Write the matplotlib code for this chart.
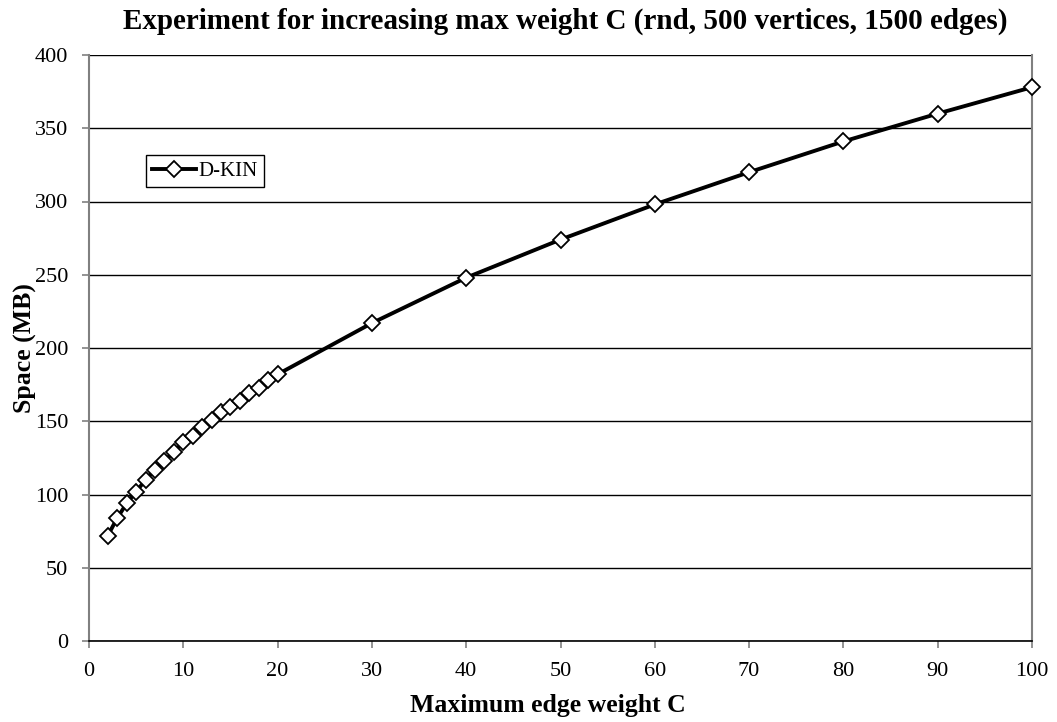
import matplotlib
matplotlib.use("Agg")
import matplotlib.pyplot as plt

plt.rcParams['font.family'] = ['Liberation Serif', 'DejaVu Serif']

max_weight = [2, 3, 4, 5, 6, 7, 8, 9, 10, 11, 12, 13, 14, 15, 16, 17, 18, 19, 20,
              30, 40, 50, 60, 70, 80, 90, 100]
space_mb = [72, 84, 94, 102, 110, 117, 123, 129, 136, 140, 146, 151, 156, 160,
            164, 169, 173, 178, 182, 217, 248, 274, 298, 320, 341, 360, 378]

x_ticks = list(range(0, 101, 10))
y_ticks = list(range(0, 401, 50))

fig = plt.figure(figsize=(10.57, 7.22), dpi=100)
ax = fig.add_axes([89 / 1057, 1 - 641 / 722, (1032 - 89) / 1057, (641 - 55) / 722])

ax.plot(max_weight, space_mb, color='black', linewidth=2.8, marker='D',
        markersize=8, markerfacecolor='white', markeredgecolor='black',
        markeredgewidth=1.3, label='D-KIN', zorder=3, clip_on=False)

ax.set_xlim(0, 100)
ax.set_ylim(0, 400)
ax.set_xticks(x_ticks)
ax.set_yticks(y_ticks)
ax.tick_params(labelsize=16, direction='out', length=5, width=1.2, color='#808080')
ax.tick_params(axis='x', pad=10)
ax.tick_params(axis='y', pad=10)
ax.yaxis.grid(True, color='black', linewidth=1)
ax.set_axisbelow(True)
ax.spines['top'].set_visible(False)
ax.spines['left'].set_color('#808080')
ax.spines['right'].set_color('#808080')
ax.spines['bottom'].set_color('black')
ax.spines['left'].set_linewidth(1.5)
ax.spines['right'].set_linewidth(1.5)
ax.spines['bottom'].set_linewidth(1.2)

ax.set_xlabel('Maximum edge weight C', fontsize=18.5, fontweight='bold')
ax.set_ylabel('Space (MB)', fontsize=18.5, fontweight='bold')
ax.xaxis.set_label_coords(0.487, -0.09)
ax.yaxis.set_label_coords(-0.055, 0.5)
fig.text(565 / 1057, 0.99,
         'Experiment for increasing max weight C (rnd, 500 vertices, 1500 edges)',
         fontsize=21, fontweight='bold', ha='center', va='top')

leg = ax.legend(loc='upper left', bbox_to_anchor=(0.0604, 0.829), fontsize=15,
                frameon=True, fancybox=False, edgecolor='black', framealpha=1,
                handlelength=2.1, handletextpad=0.1, borderpad=0.3,
                borderaxespad=0)
leg.get_frame().set_linewidth(1)

fig.savefig('out.png', dpi=100)
